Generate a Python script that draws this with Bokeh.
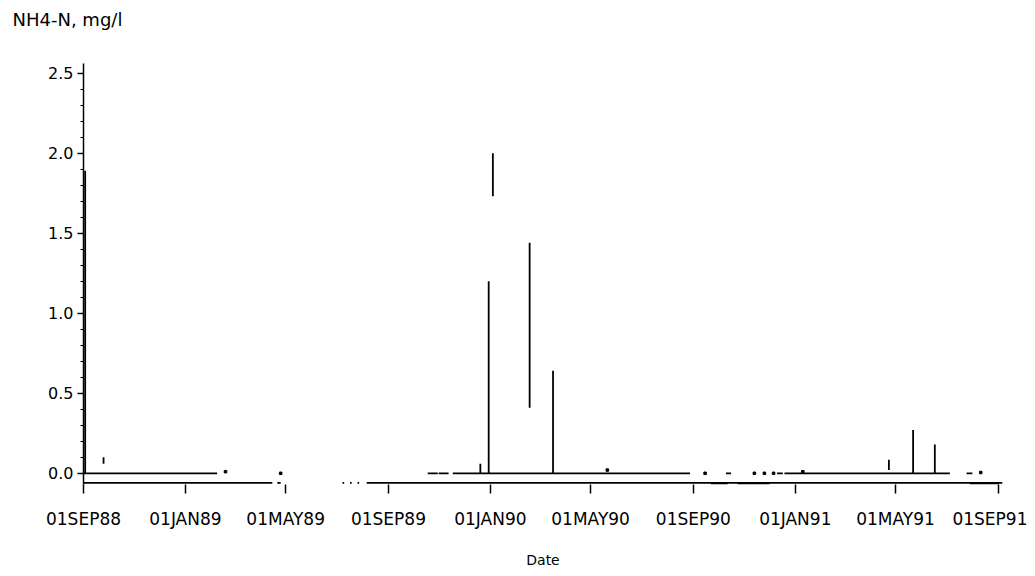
import numpy as np
import pandas as pd
from bokeh.plotting import figure
from bokeh.models import FixedTicker, Range1d, NumeralTickFormatter, Title
from bokeh.embed import file_html
from bokeh.resources import INLINE

NAN = float("nan")

# ---- data ----
# NH4-N series near zero (NaN = break in the joined line)
main_dates = ["1988-09-01", "1989-02-08", "1989-10-18", "1989-10-18", "1989-10-30",
              "1989-10-31", "1989-10-31", "1989-11-12", "1989-11-17", "1989-11-17",
              "1990-08-28", "1990-10-10", "1990-10-10", "1990-10-16", "1990-12-10",
              "1990-12-10", "1990-12-17", "1990-12-19", "1990-12-19", "1991-07-05",
              "1991-07-25", "1991-07-25", "1991-08-01"]
main_vals = [0.0, 0.0, NAN, 0.0, 0.0,
             NAN, 0.0, 0.0, NAN, 0.0,
             0.0, NAN, 0.0, 0.0, NAN,
             0.0, 0.0, NAN, 0.0, 0.0,
             NAN, 0.0, 0.0]

# lower series along the bottom of the frame
low_dates = ["1988-09-01", "1989-04-15", "1989-04-21", "1989-04-21", "1989-04-25",
             "1989-07-08", "1989-07-08", "1989-07-10", "1989-07-17", "1989-07-17",
             "1989-07-19", "1989-07-26", "1989-07-26", "1989-07-28", "1989-08-06",
             "1989-08-06", "1991-09-06"]
low_vals = [-0.06, -0.06, NAN, -0.06, -0.06,
            NAN, -0.06, -0.06, NAN, -0.06,
            -0.06, NAN, -0.06, -0.06, NAN,
            -0.06, -0.06]
low2_dates = ["1990-09-22", "1990-10-12", "1990-10-24", "1990-10-24", "1990-12-01",
              "1991-07-29", "1991-07-29", "1991-09-02"]
low2_vals = [-0.065, -0.065, NAN, -0.065, -0.065, NAN, -0.065, -0.065]

# high-low spikes
spike_dates = ["1988-09-03", "1988-09-25", "1989-12-20", "1989-12-30", "1990-01-04",
               "1990-02-17", "1990-03-17", "1991-04-23", "1991-05-22", "1991-06-17"]
spike_low = [0.0, 0.06, 0.0, 0.0, 1.73, 0.41, 0.0, 0.02, 0.0, 0.0]
spike_high = [1.89, 0.10, 0.06, 1.20, 2.00, 1.44, 0.64, 0.085, 0.27, 0.18]

# isolated single readings
pt_dates = ["1989-02-18", "1989-04-25", "1990-05-21", "1990-09-15", "1990-11-13",
            "1990-11-25", "1990-12-06", "1991-01-10", "1991-08-11"]
pt_vals = [0.01, 0.0, 0.02, 0.0, 0.0, 0.0, 0.0, 0.01, 0.005]

x_tick_dates = ["1988-09-01", "1989-01-01", "1989-05-01", "1989-09-01", "1990-01-01",
                "1990-05-01", "1990-09-01", "1991-01-01", "1991-05-01", "1991-09-01"]
x_tick_labels = ["01SEP88", "01JAN89", "01MAY89", "01SEP89", "01JAN90",
                 "01MAY90", "01SEP90", "01JAN91", "01MAY91", "01SEP91"]
y_ticks = [0.0, 0.5, 1.0, 1.5, 2.0, 2.5]
y_title = "NH4-N, mg/l"


def ms(dates):
    return (pd.to_datetime(dates).astype("int64") // 10**6).astype(float).tolist()


FONT = "DejaVu Sans"

p = figure(x_axis_type="datetime", output_backend="svg", toolbar_location=None,
           title=None,
           frame_width=919, frame_height=421,
           min_border_left=83, min_border_right=25, min_border_top=63, min_border_bottom=84,
           x_range=Range1d(ms(["1988-09-01"])[0], ms(["1991-09-06"])[0]),
           y_range=Range1d(-0.07, 2.56))
p.background_fill_color = "white"
p.border_fill_color = "white"
p.outline_line_color = None
p.grid.visible = False

# blank spacer next to the frame, then the unit title above it
p.add_layout(Title(text=" ", text_font=FONT, text_font_size="10px", standoff=16), "above")
p.add_layout(Title(text=y_title, align="left", offset=-71, standoff=10,
                   text_font=FONT, text_font_size="18px", text_font_style="normal",
                   text_color="black"), "above")

lw = 1.8
p.line(ms(main_dates), main_vals, line_color="black", line_width=lw)
p.line(ms(low_dates), low_vals, line_color="black", line_width=lw)
p.line(ms(low2_dates), low2_vals, line_color="black", line_width=lw)
sx = ms(spike_dates)
p.segment(x0=sx, y0=spike_low, x1=sx, y1=spike_high, line_color="black", line_width=lw)
p.scatter(ms(pt_dates), pt_vals, marker="square", size=2.5, color="black")

xa = p.xaxis[0]
xa.ticker = FixedTicker(ticks=ms(x_tick_dates))
xa.major_label_overrides = {t: l for t, l in zip(ms(x_tick_dates), x_tick_labels)}
xa.axis_line_color = None
xa.major_tick_out = 9
xa.major_tick_in = 0
xa.minor_tick_out = 0
xa.minor_tick_in = 0
xa.major_tick_line_color = "black"
xa.major_tick_line_width = 1.5
xa.major_label_standoff = 15
xa.major_label_text_font = FONT
xa.major_label_text_font_size = "17px"
xa.major_label_text_color = "black"
xa.axis_label = "Date"
xa.axis_label_text_font = FONT
xa.axis_label_text_font_size = "14px"
xa.axis_label_text_font_style = "normal"
xa.axis_label_text_color = "black"
xa.axis_label_standoff = 20

ya = p.yaxis[0]
ya.ticker = FixedTicker(ticks=y_ticks,
                        minor_ticks=[round(0.1 * i, 1) for i in range(0, 26)])
ya.formatter = NumeralTickFormatter(format="0.0")
ya.axis_line_color = "black"
ya.axis_line_width = 1.5
ya.major_tick_out = 6
ya.major_tick_in = 0
ya.minor_tick_out = 3
ya.minor_tick_in = 0
ya.major_tick_line_width = 1.5
ya.major_label_standoff = 4
ya.major_label_text_font = FONT
ya.major_label_text_font_size = "16px"
ya.major_label_text_color = "black"

open("out.html", "w").write(file_html(p, INLINE))
